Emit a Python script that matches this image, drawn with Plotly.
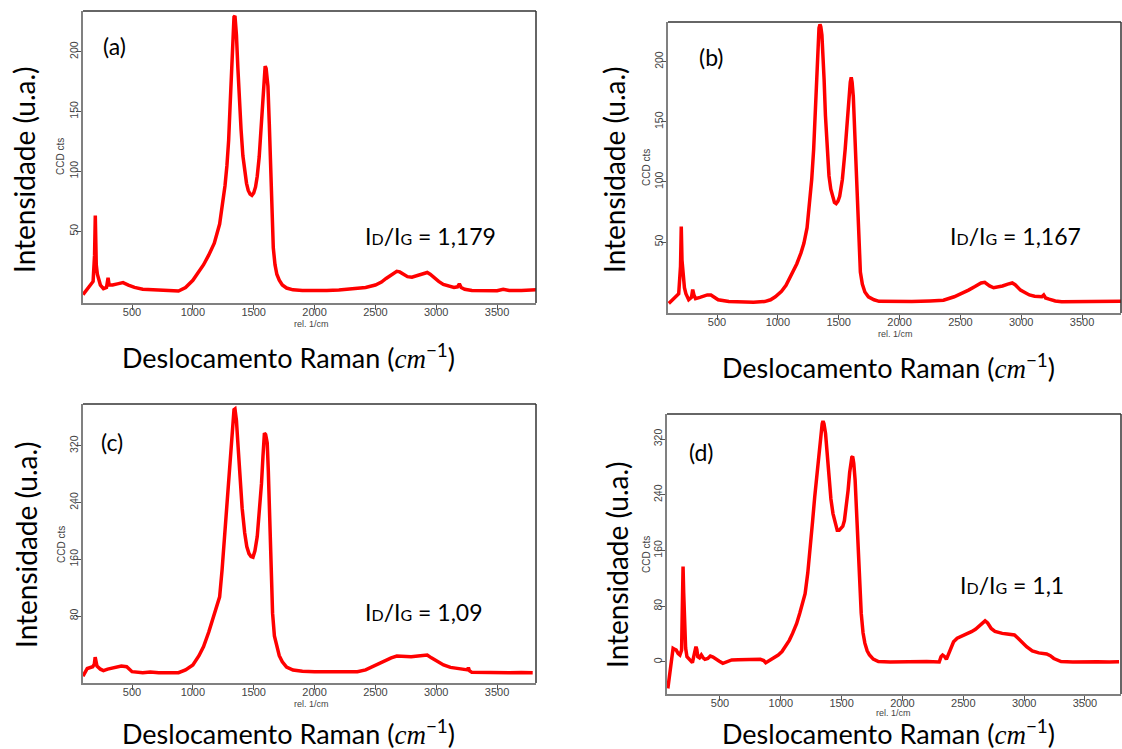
import plotly.graph_objects as go

W, H = 1122, 749

# ---- Raman spectra (shift in rel. 1/cm, intensity in CCD counts) ----
shift_a = [97, 150, 180, 192, 198, 206, 215, 240, 265, 290, 303, 312, 340, 380, 426, 470, 520, 588, 650, 720,
           800, 882, 940, 1000, 1050, 1088, 1130, 1176, 1220, 1250, 1264, 1280, 1294, 1306, 1317, 1328, 1338,
           1346, 1352, 1358, 1370, 1382, 1396, 1411, 1426, 1441, 1455, 1470, 1485, 1500, 1515, 1529, 1545, 1558,
           1570, 1582, 1594, 1602, 1610, 1617, 1628, 1638, 1650, 1661, 1675, 1690, 1710, 1735, 1770, 1823, 1900,
           2000, 2100, 2200, 2300, 2352, 2420, 2500, 2550, 2588, 2630, 2676, 2700, 2730, 2764, 2800, 2838, 2880,
           2926, 2950, 2985, 3020, 3058, 3100, 3146, 3175, 3190, 3205, 3234, 3293, 3400, 3500, 3550, 3600, 3700,
           3820]
counts_a = [-3, 4, 8, 30, 63, 22, 14, 5, 2, 3, 11, 5, 5, 6, 7, 5, 3, 1.5, 1, 0.5,
            0.5, 0, 3, 9, 16, 22, 30, 40, 56, 75, 88, 105, 126, 155, 187, 212, 229,
            230, 224, 214, 186, 160, 135, 113, 100, 90, 84, 81, 80, 82, 87, 96, 112, 132,
            152, 173, 188, 186, 180, 171, 140, 104, 65, 36, 22, 14, 9, 5, 2.5, 1, 0.5,
            0.3, 0.5, 0.8, 1.5, 2, 3, 5, 7.5, 10.5, 13.5, 16.5, 16, 14, 12, 11.5, 12.5, 14,
            15.5, 14, 10.5, 8, 5.5, 4, 3, 3.5, 6, 3, 1.5, 0.5, 0.5, 0.3, 1.5, 0.5, 0.5,
            1]

shift_b = [103, 156, 185, 200, 206, 212, 220, 232, 244, 267, 290, 300, 310, 323, 360, 390, 420, 450, 480, 509,
           597, 700, 800, 891, 940, 979, 1030, 1067, 1110, 1156, 1190, 1214, 1240, 1259, 1278, 1294, 1306, 1318,
           1328, 1338, 1346, 1353, 1362, 1370, 1380, 1391, 1405, 1420, 1435, 1450, 1465, 1479, 1494, 1508, 1530,
           1553, 1568, 1582, 1595, 1603, 1610, 1620, 1630, 1641, 1652, 1664, 1678, 1694, 1715, 1744, 1790, 1832,
           1950, 2100, 2250, 2361, 2449, 2510, 2567, 2620, 2670, 2700, 2740, 2773, 2810, 2846, 2890, 2926, 2950,
           2994, 3030, 3067, 3110, 3140, 3170, 3185, 3200, 3229, 3280, 3332, 3450, 3550, 3700, 3820]
counts_b = [-1, 4.5, 7, 30, 63, 35, 21, 12, 7, 2, 4, 10.5, 6, 3, 4, 5, 6, 6, 4, 2,
            0.5, 0, 0, 0.5, 2, 4.5, 9, 14, 22, 32, 41, 49, 62, 80, 102, 127, 155, 183,
            208, 228, 231, 229, 222, 210, 185, 155, 128, 105, 94, 87, 83, 82, 84, 88, 102,
            127, 148, 168, 183, 187, 183, 171, 145, 113, 78, 44, 25, 15, 8.5, 4.5, 2, 0.7,
            0.3, 0.5, 1, 1.6, 4.5, 7, 10, 13, 16, 16.5, 13.5, 12, 12.5, 13.5, 15, 16, 14.5,
            10, 8, 6, 5, 4.5, 4.5, 6, 3.5, 2.5, 1, 0.3, 0.5, 0.5, 0.7, 0.7]

shift_c = [97, 132, 177, 190, 197, 205, 212, 240, 265, 300, 324, 370, 412, 456, 480, 500, 588, 650, 720, 800,
           882, 940, 1000, 1050, 1088, 1130, 1176, 1200, 1220, 1240, 1264, 1280, 1294, 1306, 1317, 1328, 1338,
           1346, 1352, 1358, 1372, 1388, 1405, 1426, 1443, 1461, 1478, 1494, 1510, 1529, 1546, 1564, 1576, 1588,
           1598, 1605, 1611, 1620, 1632, 1643, 1655, 1670, 1690, 1710, 1735, 1770, 1823, 1900, 2000, 2100, 2200,
           2300, 2352, 2420, 2500, 2550, 2588, 2630, 2676, 2720, 2760, 2794, 2850, 2900, 2926, 2960, 3014, 3060,
           3117, 3180, 3234, 3258, 3264, 3272, 3293, 3400, 3500, 3600, 3700, 3793]
counts_c = [-5, 6, 8.5, 12, 22, 15, 9.5, 5, 3, 5, 6, 7, 9.5, 8.5, 5, 1.5, 0, 1, 0, 0.5,
            0, 4, 11, 24, 37, 57, 84, 95, 107, 145, 201, 240, 272, 305, 333, 356, 371,
            372, 366, 356, 318, 272, 232, 197, 178, 168, 164, 163, 172, 192, 226, 267, 305, 338,
            336, 330, 324, 285, 225, 150, 84, 52, 37, 24, 15.5, 8, 3.8, 2, 1.5, 1.5, 1,
            1.2, 1.4, 4, 11, 15, 18, 21, 23.5, 23, 22.5, 22.6, 23.5, 25, 25, 21, 15.5, 11,
            7.5, 6, 4.7, 4, 7.5, 3, 0.5, 0, 0.5, 0, 0.3, 0]

shift_d = [72, 85, 97, 106, 115, 130, 141, 157, 171, 185, 191, 197, 202, 209, 218, 229, 245, 259, 274, 290,
           303, 310, 318, 332, 347, 362, 377, 400, 421, 443, 465, 495, 524, 560, 597, 650, 700, 750, 800, 832,
           860, 876, 900, 920, 950, 979, 1010, 1038, 1070, 1097, 1130, 1156, 1180, 1200, 1222, 1244, 1262, 1279,
           1295, 1309, 1322, 1332, 1340, 1347, 1355, 1368, 1382, 1397, 1412, 1429, 1446, 1464, 1480, 1494, 1510,
           1523, 1538, 1553, 1566, 1576, 1584, 1591, 1600, 1611, 1622, 1632, 1646, 1661, 1676, 1691, 1710, 1729,
           1760, 1802, 1900, 2000, 2100, 2200, 2302, 2317, 2330, 2345, 2361, 2390, 2420, 2450, 2478, 2520, 2567,
           2600, 2626, 2655, 2679, 2700, 2729, 2760, 2788, 2820, 2861, 2890, 2920, 2950, 2979, 3020, 3067, 3120,
           3185, 3215, 3244, 3303, 3400, 3500, 3600, 3700, 3780]
counts_d = [-38, -20, -2, 12, 19.6, 18, 17, 12, 10, 17, 60, 137, 100, 41, 20, 7.6, 5, 2.9, -1, 12,
            22, 18, 7.6, 6, 10, 6, 3.8, 5, 8.6, 7, 3.8, 1, -2, 0, 2.9, 3.2, 3.3, 3.5, 3.5, 3.8,
            2, -1, 1.5, 3.8, 6, 10, 15, 22, 31, 41, 55, 70, 84, 98, 128, 165, 203, 237,
            268, 294, 318, 332, 342, 346, 342, 328, 295, 261, 234, 213, 199, 189, 189, 191.5, 195,
            203, 222, 246, 272, 289, 294, 295, 285, 261, 222, 175, 118, 70, 42, 27, 16, 10,
            4, 0.5, 0, 0.5, 0, 0.5, 0, 7.6, 10, 8, 3.8, 15, 29, 34, 36, 39, 43.5,
            47, 50.6, 55, 59, 56, 48, 44, 42, 41, 40, 39.5, 38.7, 34, 29, 22, 16, 13,
            11.5, 9, 5, 0.5, 0, 0.5, 0.3, 0, 0.3]

# ---- tick values and labels ----
x_ticks = [500, 1000, 1500, 2000, 2500, 3000, 3500]
y_ticks_a = [50, 100, 150, 200]
y_ticks_b = [50, 100, 150, 200]
y_ticks_c = [80, 160, 240, 320]
y_ticks_d = [0, 80, 160, 240, 320]
panel_tags = ["(a)", "(b)", "(c)", "(d)"]
ratio_values = ["1,179", "1,167", "1,09", "1,1"]


def fx(p):
    return p / W


def fy(p):
    return 1 - p / H


# layout geometry in pixels: plot box (left, right, top, bottom) and text anchors
panels = [
    dict(shift=shift_a, counts=counts_a, yt=y_ticks_a, box=(83, 536, 11, 303), xr=(97, 3820), yr=(-10, 234),
         tag=(114, 46), ratio=(430, 236), ytitle=(24, 170), ccd=(61, 157), rel=(311, 324), xtitle=(288, 356)),
    dict(shift=shift_b, counts=counts_b, yt=y_ticks_b, box=(668, 1121, 22, 313), xr=(97, 3820), yr=(-9, 233),
         tag=(712, 57), ratio=(1015, 236), ytitle=(614, 170), ccd=(646, 168), rel=(895, 334), xtitle=(888, 366)),
    dict(shift=shift_c, counts=counts_c, yt=y_ticks_c, box=(83, 536, 404, 683), xr=(97, 3820), yr=(-14.5, 379),
         tag=(112, 442), ratio=(424, 612), ytitle=(26, 545), ccd=(61, 545), rel=(311, 704), xtitle=(288, 732)),
    dict(shift=shift_d, counts=counts_d, yt=y_ticks_d, box=(667, 1121, 414, 694), xr=(65, 3796), yr=(-46, 356),
         tag=(701, 452), ratio=(1012, 585), ytitle=(617, 565), ccd=(646, 555), rel=(893, 713), xtitle=(888, 732)),
]

BIG = "Lato"
SMALL = "Liberation Sans"

fig = go.Figure()
layout = dict(
    width=W, height=H,
    margin=dict(l=0, r=0, t=0, b=0),
    paper_bgcolor="white", plot_bgcolor="white",
    showlegend=False,
    annotations=[], shapes=[],
)

for i, p in enumerate(panels):
    n = "" if i == 0 else str(i + 1)
    xa, ya = "xaxis" + n, "yaxis" + n
    l, r, t, b = p["box"]
    fig.add_trace(go.Scatter(
        x=p["shift"], y=p["counts"], mode="lines",
        line=dict(color="#ff0000", width=3.5),
        xaxis="x" + n, yaxis="y" + n, hoverinfo="skip",
    ))
    layout[xa] = dict(
        domain=[fx(l), fx(r)], range=list(p["xr"]), anchor="y" + n,
        tickvals=x_ticks, ticks="outside", ticklen=5, tickcolor="#555", tickwidth=1,
        ticklabelstandoff=-7,
        showline=True, linecolor="#808080", linewidth=1.5, showgrid=False, zeroline=False,
        tickfont=dict(family=SMALL, size=11, color="#444"),
    )
    layout[ya] = dict(
        domain=[fy(b), fy(t)], range=list(p["yr"]), anchor="x" + n,
        tickvals=p["yt"], ticks="outside", ticklen=5, tickcolor="#555", tickwidth=1,
        ticklabelstandoff=-6,
        showline=True, linecolor="#808080", linewidth=1.5, showgrid=False, zeroline=False,
        tickangle=-90, tickfont=dict(family=SMALL, size=10.5, color="#444"),
    )
    # top and right frame edges
    layout["shapes"].append(dict(type="line", xref="paper", yref="paper",
                                 x0=fx(l), x1=fx(r), y0=fy(t), y1=fy(t),
                                 line=dict(color="#333", width=1.5)))
    layout["shapes"].append(dict(type="line", xref="paper", yref="paper",
                                 x0=fx(r), x1=fx(r), y0=fy(b), y1=fy(t),
                                 line=dict(color="#333", width=1.5)))

    def note(pos, text, size, family=BIG, color="black", angle=0):
        layout["annotations"].append(dict(
            x=fx(pos[0]), y=fy(pos[1]), xref="paper", yref="paper",
            xanchor="center", yanchor="middle", text=text, showarrow=False,
            textangle=angle, font=dict(family=family, size=size, color=color),
        ))

    note(p["tag"], panel_tags[i], 23)
    note(p["ratio"],
         "I<span style='font-size:16px'>D</span>/I<span style='font-size:16px'>G</span> = " + ratio_values[i],
         23)
    note(p["ytitle"], "Intensidade (u.a.)", 28, angle=-90)
    note(p["ccd"], "CCD cts", 10, family=SMALL, color="#444", angle=-90)
    note(p["rel"], "rel. 1/cm", 9, family=SMALL, color="#444")
    note(p["xtitle"],
         "Deslocamento Raman (<i><span style='font-family:Liberation Serif'>cm</span></i>"
         "<sup>−1</sup>)", 27)

fig.update_layout(**layout)
fig.write_html("out.html")
